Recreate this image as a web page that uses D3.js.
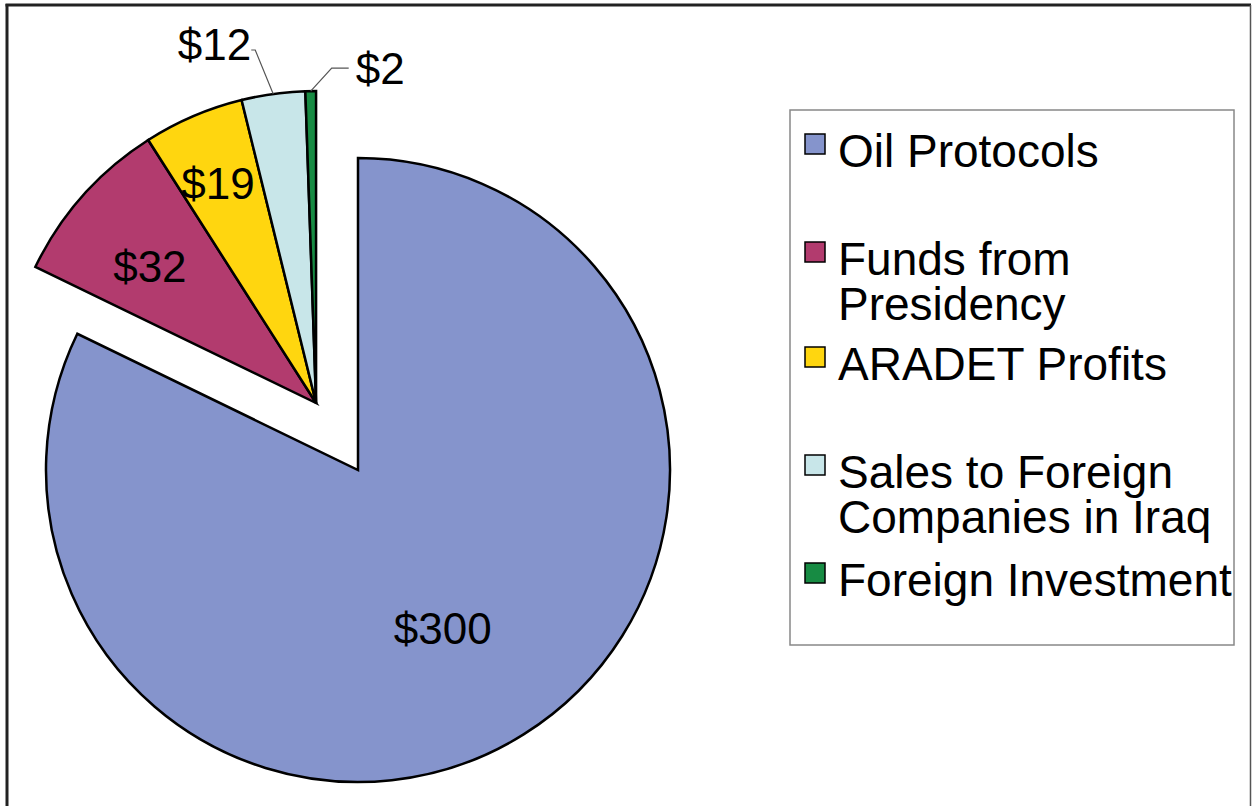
<!DOCTYPE html>
<html>
<head>
<meta charset="utf-8">
<script src="https://cdn.jsdelivr.net/npm/d3@7"></script>
<style>
  html, body { margin: 0; padding: 0; background: #fff; }
  svg { display: block; font-family: "Liberation Sans", Arial, sans-serif; }
</style>
</head>
<body>
<svg id="chart" width="1252" height="806"></svg>
<script>
// ---- data ----
const categories = ["Oil Protocols", "Funds from Presidency", "ARADET Profits", "Sales to Foreign Companies in Iraq", "Foreign Investment"];
const values = [300, 32, 19, 12, 2];
const valueLabels = ["$300", "$32", "$19", "$12", "$2"];
const legendLines = [["Oil Protocols"], ["Funds from", "Presidency"], ["ARADET Profits"], ["Sales to Foreign", "Companies in Iraq"], ["Foreign Investment"]];
const colors = ["#8594CC", "#B23B6E", "#FFD60F", "#C8E6E9", "#178B43"];

// ---- layout config ----
const W = 1252, H = 806;
const cx = 358, cy = 470, R = 312;
const explode = 79;
const insideFactor = [0.575, 0.69, 0.77];   // label radius factors for inside labels
const insideAngleFrac = [0.513, 0.43, 0.45]; // where along the slice the label sits
const outside = { 3: { elbow: [-18, -44], side: "left" }, 4: { elbow: [21, -23], side: "right" } };

const svg = d3.select("#chart");

// outer frame
svg.append("line").attr("x1", 7).attr("x2", 7).attr("y1", 4).attr("y2", H).attr("stroke", "#222").attr("stroke-width", 3);
svg.append("line").attr("x1", 5.5).attr("x2", 1251).attr("y1", 5).attr("y2", 5).attr("stroke", "#222").attr("stroke-width", 3);
svg.append("line").attr("x1", 1250.5).attr("x2", 1250.5).attr("y1", 5).attr("y2", H).attr("stroke", "#555").attr("stroke-width", 1.5);

const pie = d3.pie().sort(null).value(d => d).startAngle(0).endAngle(2 * Math.PI);
const arcs = pie(values);
const arc = d3.arc().innerRadius(0).outerRadius(R);

// exploded group of small slices
const grpStart = arcs[1].startAngle, grpEnd = arcs[arcs.length - 1].endAngle;
const grpMid = (grpStart + grpEnd) / 2;
const ex = explode * Math.sin(grpMid), ey = -explode * Math.cos(grpMid);

function offset(i) { return i === 0 ? [0, 0] : [ex, ey]; }

const g = svg.append("g").attr("transform", `translate(${cx},${cy})`);

g.selectAll("path.slice").data(arcs).join("path")
  .attr("class", "slice")
  .attr("transform", (d, i) => `translate(${offset(i)[0]},${offset(i)[1]})`)
  .attr("d", arc)
  .attr("fill", (d, i) => colors[i])
  .attr("stroke", "#000")
  .attr("stroke-width", 2.5)
  .attr("stroke-linejoin", "miter");

// labels
const fs = 44;
arcs.forEach((d, i) => {
  const mid = (d.startAngle + d.endAngle) / 2;
  const [ox, oy] = offset(i);
  if (i < insideFactor.length) {
    const r = R * insideFactor[i];
    const a = d.startAngle + insideAngleFrac[i] * (d.endAngle - d.startAngle);
    g.append("text")
      .attr("x", ox + r * Math.sin(a))
      .attr("y", oy - r * Math.cos(a))
      .attr("text-anchor", "middle")
      .attr("dominant-baseline", "central")
      .attr("font-size", fs)
      .attr("fill", "#000")
      .text(valueLabels[i]);
  } else {
    const o = outside[i];
    const px = ox + R * Math.sin(mid), py = oy - R * Math.cos(mid);
    const ex2 = px + o.elbow[0], ey2 = py + o.elbow[1];
    const hx = o.side === "left" ? ex2 - 4 : ex2 + 17;
    g.append("polyline")
      .attr("points", [[px, py], [ex2, ey2], [hx, ey2]].map(p => p.join(",")).join(" "))
      .attr("fill", "none")
      .attr("stroke", "#555")
      .attr("stroke-width", 1.2);
    g.append("text")
      .attr("x", o.side === "left" ? hx : hx + 7)
      .attr("y", o.side === "left" ? ey2 + 10 : ey2 + 16)
      .attr("text-anchor", o.side === "left" ? "end" : "start")
      .attr("font-size", fs)
      .attr("fill", "#000")
      .text(valueLabels[i]);
  }
});

// legend
const lx = 790, ly = 110, lw = 444, lh = 535;
svg.append("rect").attr("x", lx).attr("y", ly).attr("width", lw).attr("height", lh)
  .attr("fill", "#fff").attr("stroke", "#888").attr("stroke-width", 1.5);

const legendBaselines = [167, 275, 380, 488, 596];
const lineGap = 45;
const legend = svg.append("g");
categories.forEach((c, i) => {
  const b = legendBaselines[i];
  legend.append("rect")
    .attr("x", 805).attr("y", b - 33)
    .attr("width", 20).attr("height", 20)
    .attr("fill", colors[i]).attr("stroke", "#000").attr("stroke-width", 1.5);
  const t = legend.append("text")
    .attr("x", 838).attr("y", b)
    .attr("font-size", 46)
    .attr("fill", "#000");
  legendLines[i].forEach((ln, j) => {
    t.append("tspan").attr("x", 838).attr("y", b + j * lineGap).text(ln);
  });
});
</script>
</body>
</html>
